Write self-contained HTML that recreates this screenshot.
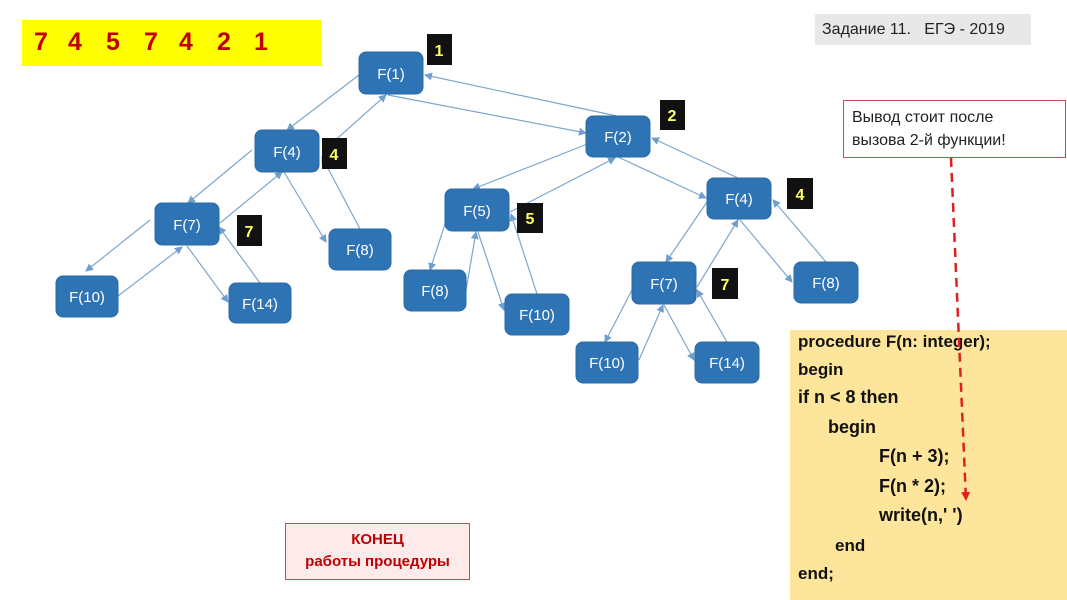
<!DOCTYPE html>
<html><head><meta charset="utf-8"><style>
body{margin:0;width:1067px;height:600px;background:#fff;overflow:hidden;font-family:"Liberation Sans","DejaVu Sans",sans-serif;position:relative}
.a{position:absolute}
.code{left:790px;top:330px;width:277px;height:270px;background:#fde59b;font-weight:bold;font-size:17px;color:#111}
.code div{position:absolute;white-space:pre}
</style></head><body>
<div class="a" style="left:22px;top:20px;width:300px;height:46px;background:#ffff00"></div>
<div class="a" style="left:34px;top:28px;font-size:25px;font-weight:bold;color:#c00000;word-spacing:0;letter-spacing:0">
<span style="position:absolute;left:0">7</span><span style="position:absolute;left:34px">4</span><span style="position:absolute;left:72px">5</span><span style="position:absolute;left:110px">7</span><span style="position:absolute;left:145px">4</span><span style="position:absolute;left:183px">2</span><span style="position:absolute;left:220px">1</span></div>
<div class="a" style="left:815px;top:14px;width:216px;height:31px;background:#e8e8e8;font-size:16px;color:#222;line-height:31px;text-indent:7px;white-space:pre">Задание 11.   ЕГЭ - 2019</div>
<div class="a" style="left:843px;top:100px;width:221px;height:56px;border:1px solid #c0504d;background:#fff;font-size:16px;color:#222;line-height:23px;padding:5px 0 0 8px;box-sizing:border-box;width:223px;height:58px">Вывод стоит после<br>вызова 2-й функции!</div>
<div class="a" style="left:285px;top:523px;width:185px;height:57px;border:1px solid #c0504d;background:#fdeaea;box-sizing:border-box;text-align:center;font-size:15px;font-weight:bold;color:#c00000;line-height:22px;padding-top:5px">КОНЕЦ<br>работы процедуры</div>
<div class="a code">
<div style="left:8px;top:2px">procedure F(n: integer);</div>
<div style="left:8px;top:30px">begin</div>
<div style="left:8px;top:57px;font-size:18px">if n &lt; 8 then</div>
<div style="left:38px;top:87px;font-size:18px">begin</div>
<div style="left:89px;top:116px;font-size:18px">F(n + 3);</div>
<div style="left:89px;top:146px;font-size:18px">F(n * 2);</div>
<div style="left:89px;top:175px;font-size:18px">write(n,' ')</div>
<div style="left:45px;top:206px">end</div>
<div style="left:8px;top:234px">end;</div>
</div>
<svg class="a" style="left:0;top:0" width="1067" height="600">
<defs>
<marker id="m" markerWidth="8" markerHeight="8" refX="7" refY="4" orient="auto" markerUnits="userSpaceOnUse"><path d="M0,0 L8,4 L0,8z" fill="#6f9fcf"/></marker>
<marker id="r" markerWidth="9" markerHeight="9" refX="8" refY="4.5" orient="auto" markerUnits="userSpaceOnUse"><path d="M0,0 L9,4.5 L0,9z" fill="#e02020"/></marker>
</defs>
<g stroke="#7ea6cc" stroke-width="1.2" fill="none" marker-end="url(#m)">
<line x1="359" y1="75" x2="287" y2="130"/><line x1="322" y1="152" x2="386" y2="95"/>
<line x1="252" y1="150" x2="188" y2="203"/><line x1="220" y1="223" x2="282" y2="172"/>
<line x1="150" y1="220" x2="86" y2="271"/><line x1="118" y1="296" x2="182" y2="247"/>
<line x1="187" y1="246" x2="228" y2="302"/><line x1="260" y1="283" x2="219" y2="227"/>
<line x1="284" y1="172" x2="326" y2="242"/><line x1="360" y1="229" x2="322" y2="157"/>
<line x1="388" y1="95" x2="586" y2="133"/><line x1="617" y1="116" x2="425" y2="75"/>
<line x1="590" y1="143" x2="473" y2="189"/><line x1="510" y1="212" x2="615" y2="158"/>
<line x1="448" y1="215" x2="430" y2="270"/><line x1="466" y1="290" x2="476" y2="232"/>
<line x1="478" y1="232" x2="504" y2="310"/><line x1="537" y1="294" x2="511" y2="214"/>
<line x1="618" y1="157" x2="706" y2="198"/><line x1="738" y1="178" x2="652" y2="138"/>
<line x1="707" y1="202" x2="666" y2="262"/><line x1="697" y1="287" x2="738" y2="220"/>
<line x1="632" y1="290" x2="605" y2="342"/><line x1="639" y1="360" x2="663" y2="305"/>
<line x1="664" y1="305" x2="694" y2="360"/><line x1="727" y1="342" x2="697" y2="290"/>
<line x1="740" y1="220" x2="792" y2="282"/><line x1="826" y1="262" x2="773" y2="200"/>
</g>
<line x1="951" y1="158" x2="966" y2="500" stroke="#e02020" stroke-width="2.5" stroke-dasharray="9,6" marker-end="url(#r)"/>
<g fill="#2e74b5" stroke="#2a6aa5">
<rect x="359" y="52" width="64" height="42" rx="7"/>
<rect x="255" y="130" width="64" height="42" rx="7"/>
<rect x="155" y="203" width="64" height="42" rx="7"/>
<rect x="56" y="276" width="62" height="41" rx="7"/>
<rect x="229" y="283" width="62" height="40" rx="7"/>
<rect x="329" y="229" width="62" height="41" rx="7"/>
<rect x="586" y="116" width="64" height="41" rx="7"/>
<rect x="445" y="189" width="64" height="42" rx="7"/>
<rect x="404" y="270" width="62" height="41" rx="7"/>
<rect x="505" y="294" width="64" height="41" rx="7"/>
<rect x="707" y="178" width="64" height="41" rx="7"/>
<rect x="632" y="262" width="64" height="42" rx="7"/>
<rect x="576" y="342" width="62" height="41" rx="7"/>
<rect x="695" y="342" width="64" height="41" rx="7"/>
<rect x="794" y="262" width="64" height="41" rx="7"/>
</g>
<g fill="#fff" font-size="15" text-anchor="middle" font-family="Liberation Sans, sans-serif">
<text x="391" y="79">F(1)</text><text x="287" y="157">F(4)</text><text x="187" y="230">F(7)</text>
<text x="87" y="302">F(10)</text><text x="260" y="309">F(14)</text><text x="360" y="255">F(8)</text>
<text x="618" y="142">F(2)</text><text x="477" y="216">F(5)</text><text x="435" y="296">F(8)</text>
<text x="537" y="320">F(10)</text><text x="739" y="204">F(4)</text><text x="664" y="289">F(7)</text>
<text x="607" y="368">F(10)</text><text x="727" y="368">F(14)</text><text x="826" y="288">F(8)</text>
</g>
<g fill="#111">
<rect x="427" y="34" width="25" height="31"/><rect x="322" y="138" width="25" height="31"/>
<rect x="237" y="215" width="25" height="31"/><rect x="660" y="100" width="25" height="30"/>
<rect x="517" y="203" width="26" height="30"/><rect x="787" y="178" width="26" height="31"/>
<rect x="712" y="268" width="26" height="31"/>
</g>
<g fill="#ffff66" font-size="16" font-weight="bold" text-anchor="middle" font-family="Liberation Sans, sans-serif">
<text x="439" y="56">1</text><text x="334" y="160">4</text><text x="249" y="237">7</text>
<text x="672" y="121">2</text><text x="530" y="224">5</text><text x="800" y="200">4</text><text x="725" y="290">7</text>
</g>
</svg>
</body></html>
